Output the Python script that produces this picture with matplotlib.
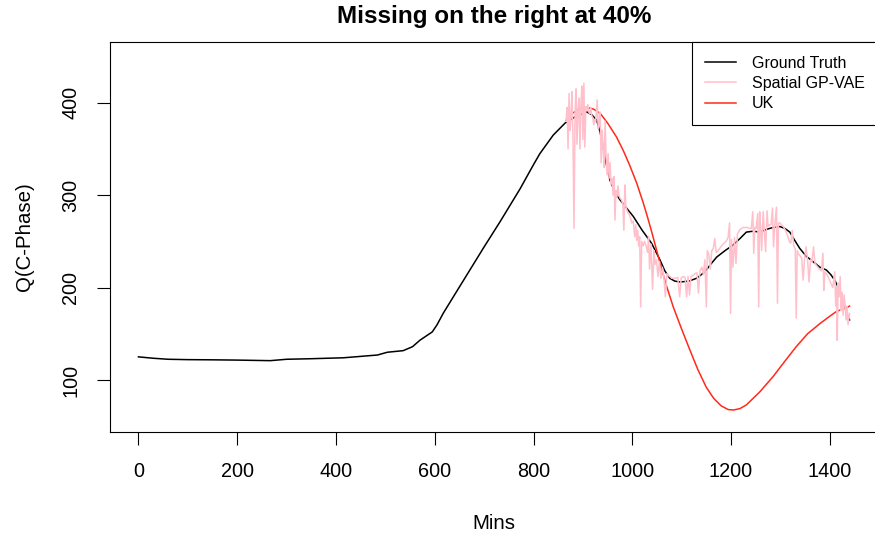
import matplotlib.pyplot as plt
import numpy as np

plt.rcParams['font.family'] = ['Liberation Sans', 'DejaVu Sans']

# ground truth
gt_x = [0, 30, 60, 100, 150, 200, 267, 300, 350, 415, 484, 504, 536, 555, 570, 595, 605, 617,
        640, 670, 700, 732, 773, 800, 813, 840, 864, 885, 908, 918, 928, 935, 941, 948, 955,
        965, 975, 990, 1002, 1020, 1039, 1056, 1066, 1076, 1086, 1097, 1115, 1130, 1140, 1150,
        1160, 1171, 1188, 1204, 1218, 1231, 1245, 1258, 1272, 1285, 1299, 1309, 1319, 1329,
        1339, 1352, 1366, 1380, 1393, 1402, 1410, 1420, 1430, 1437, 1440]
gt_y = [125, 123.5, 122.4, 122, 121.8, 121.5, 120.9, 122.4, 123, 124, 127, 130, 131.7, 136, 143,
        152, 160, 172, 192, 218, 244, 271, 307, 333, 345, 365, 378, 385, 390, 387, 381, 368,
        352, 332, 316, 303, 295, 285, 277, 262, 248, 230, 218, 210, 207, 206, 207, 210, 214,
        219, 226, 233, 240, 246, 253, 260, 261, 260, 263, 265, 266, 264, 260, 251, 242.5, 234,
        228, 222, 219, 214, 208, 197, 180, 168, 165]

# Spatial GP-VAE reconstruction
vae_x = [866, 868, 870, 872, 874, 876, 878, 880, 882, 884, 886, 888, 890, 892, 894, 896, 898,
         900, 902, 904, 906, 908, 910, 912, 914, 916, 918, 920, 922, 924, 926, 929, 931, 933,
         935, 937, 939, 941, 943, 945, 947, 949, 951, 953, 955, 957, 959, 961, 963, 965, 967,
         969, 971, 973, 975, 978, 981, 983, 985, 987, 990, 993, 996, 999, 1002, 1005, 1007,
         1009, 1011, 1013, 1015, 1017, 1019, 1022, 1025, 1028, 1031, 1033, 1035, 1038, 1041,
         1044, 1046, 1049, 1052, 1055, 1058, 1061, 1064, 1067, 1070, 1073, 1076, 1080, 1084,
         1088, 1092, 1096, 1099, 1103, 1107, 1110, 1113, 1116, 1119, 1123, 1127, 1131, 1134,
         1137, 1141, 1144, 1147, 1150, 1152, 1155, 1158, 1161, 1164, 1167, 1170, 1174, 1178,
         1182, 1186, 1190, 1194, 1197, 1199, 1201, 1204, 1207, 1210, 1213, 1217, 1221, 1225,
         1229, 1233, 1237, 1241, 1244, 1246, 1248, 1251, 1254, 1256, 1258, 1260, 1262, 1265,
         1267, 1270, 1273, 1275, 1278, 1281, 1284, 1286, 1289, 1292, 1294, 1296, 1299, 1302,
         1306, 1310, 1314, 1318, 1321, 1324, 1327, 1330, 1332, 1334, 1337, 1340, 1343, 1346,
         1349, 1352, 1355, 1358, 1361, 1364, 1367, 1370, 1373, 1376, 1379, 1383, 1386, 1388,
         1390, 1394, 1398, 1402, 1406, 1410, 1412, 1414, 1415, 1417, 1419, 1421, 1423, 1425,
         1427, 1429, 1431, 1433, 1435, 1437, 1440]
vae_y = [380, 395, 350, 410, 370, 385, 412, 360, 264, 385, 415, 355, 392, 405, 350, 398, 418,
         360, 421, 352, 395, 392, 398, 390, 388, 395, 386, 384, 376, 382, 380, 403, 372, 378,
         390, 335, 370, 352, 330, 380, 340, 322, 345, 318, 335, 312, 318, 300, 320, 273, 305,
         298, 310, 300, 297, 295, 290, 262, 311, 288, 282, 280, 276, 270, 272, 255, 268,
         251, 262, 245, 255, 179, 250, 245, 250, 245, 238, 255, 220, 247, 198,
         240, 225, 230, 212, 228, 210, 222, 212, 190, 215, 213, 212, 210, 210,
         210, 211, 190, 210, 212, 211, 190, 212, 192, 212, 213, 215, 216, 194,
         218, 222, 214, 230, 179, 240, 236, 220, 240, 242, 253, 238, 240, 243,
         246, 248, 250, 254, 270, 172, 252, 222, 254, 226, 258, 262, 264, 265,
         265, 265, 264, 264, 282, 237, 265, 264, 280, 179, 282, 264, 240, 282,
         264, 239, 283, 266, 268, 268, 286, 244, 270, 287, 183, 270, 270, 268,
         266, 262, 257, 250, 248, 262, 245, 242, 167, 240, 236, 234, 232, 208,
         232, 244, 230, 206, 230, 228, 244, 226, 224, 222, 220, 218, 237, 197,
         217, 214, 210, 205, 200, 217, 180, 200, 143, 205, 190, 212, 175, 195,
         170, 192, 180, 165, 180, 160, 172]

# universal kriging
uk_x = [866, 880, 895, 908, 922, 935, 950, 968, 982, 995, 1009, 1022, 1031, 1040, 1053, 1068,
        1083, 1100, 1117, 1133, 1150, 1165, 1180, 1194, 1205, 1218, 1231, 1258, 1285, 1310,
        1332, 1355, 1380, 1400, 1413, 1437, 1440]
uk_y = [381, 389, 394, 395, 393, 388.5, 378, 363, 348, 332, 313, 292, 276, 259, 233, 204,
        179, 155, 132, 111, 92, 80, 72, 68, 67.5, 69, 73, 87, 103.6, 121, 136, 150, 161, 169,
        174, 179, 180]

fig = plt.figure(figsize=(8.75, 5.38), dpi=100)
ax = fig.add_axes([110 / 875, 106 / 538, 768 / 875, 390 / 538])

ax.plot(gt_x, gt_y, color='black', lw=1.1, label='Ground Truth')
ax.plot(uk_x, uk_y, color='#ff2a1a', lw=1.1, label='UK', zorder=2.5)
ax.plot(vae_x, vae_y, color='#ffc0cb', lw=1.1, label='Spatial GP-VAE', zorder=3)

ax.set_xlim(-57.6, 1497.6)
ax.set_ylim(43.7, 465.7)
ax.set_xticks(np.arange(0, 1401, 200))
ax.set_yticks([100, 200, 300, 400])
ax.tick_params(labelsize=14.3, length=9.4, width=0.8, pad=12)
for lab in ax.get_yticklabels():
    lab.set_rotation(90)
    lab.set_va('center')
for s in ax.spines.values():
    s.set_linewidth(0.8)

ax.set_xlabel('Mins', fontsize=14.7, labelpad=24)
ax.set_ylabel('Q(C-Phase)', fontsize=14.7, labelpad=20)
fig.text(0.5 * (110 + 878) / 875, 1 - 17 / 538, 'Missing on the right at 40%',
         ha='center', va='center', fontsize=17.5, fontweight='bold')

h = ax.get_legend_handles_labels()
order = [0, 2, 1]
leg = ax.legend([h[0][i] for i in order], [h[1][i] for i in order],
                loc='upper right', bbox_to_anchor=(1, 1), borderaxespad=0,
                fontsize=11.5, fancybox=False, edgecolor='black', framealpha=1,
                handlelength=1.95, handletextpad=0.95, borderpad=0.85, labelspacing=0.33)
leg.get_frame().set_linewidth(0.8)

plt.savefig('out.png', dpi=100)
